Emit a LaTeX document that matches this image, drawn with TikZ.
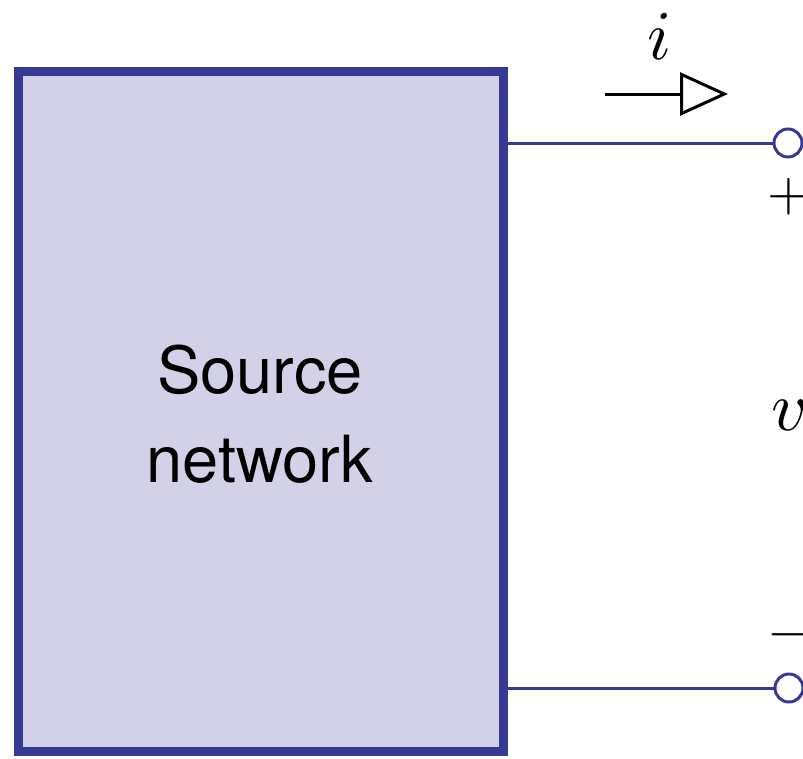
\documentclass[tikz,border=0pt]{standalone}
\usepackage{fontspec}
\setsansfont{TeX Gyre Heros}
\usetikzlibrary{arrows.meta}
\definecolor{boxfill}{RGB}{211,209,232}
\definecolor{boxedge}{RGB}{55,58,148}
\tikzset{
  netbox/.style={draw=boxedge, fill=boxfill, line width=9pt},
  wire/.style={draw=boxedge, line width=3pt},
  terminal/.style={circle, draw=boxedge, fill=white, line width=3pt, minimum size=28pt, inner sep=0pt},
  biglbl/.style={inner sep=0pt, scale=7, transform shape},
  signlbl/.style={inner sep=0pt, scale=5.5, transform shape, anchor=west},
  boxtext/.style={inner sep=0pt, anchor=base, font=\sffamily\fontsize{65}{89}\selectfont},
}
\begin{document}
\begin{tikzpicture}[x=1pt,y=-1pt]
\useasboundingbox (0,0) rectangle (803,758);
% source network block
\draw[netbox] (18.5,71.5) rectangle (503.5,751.5);
\node[boxtext] (src1) at (260,393) {Source};
\node[boxtext] (src2) at (260,482) {network};
% output terminals
\coordinate (topout) at (503.5,143);
\coordinate (botout) at (503.5,688);
\node[terminal] (tp) at (788,143) {};
\node[terminal] (tn) at (789,688) {};
\draw[wire] (topout) -- (tp.west);
\draw[wire] (botout) -- (tn.west);
% current arrow
\coordinate (ia) at (605,94);
\coordinate (ib) at (728,94);
\draw[line width=3pt, -{Triangle[open, length=48pt, width=43pt, line width=3pt]}] (ia) -- (ib);
\node[biglbl] (ilbl) at (660,36) {$i$};
% voltage labels
\node[signlbl] (plus) at (766,197) {$+$};
\node[biglbl, anchor=west] (vlbl) at (770,415) {$v$};
\node[signlbl] (minus) at (766,635) {$-$};
\end{tikzpicture}
\end{document}
